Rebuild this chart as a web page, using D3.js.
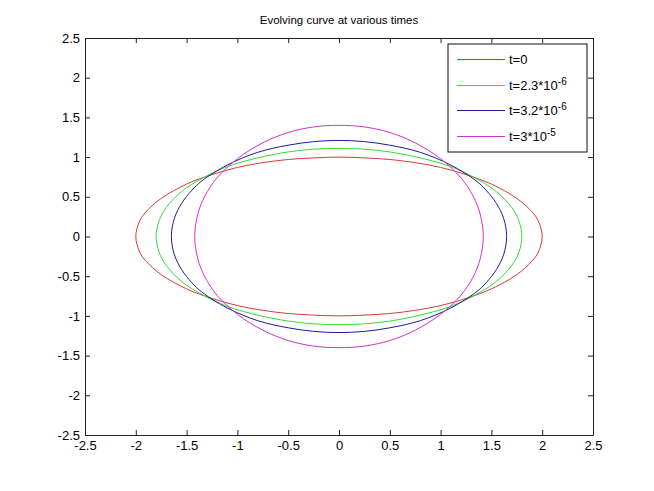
<!DOCTYPE html>
<html>
<head>
<meta charset="utf-8">
<script src="https://cdn.jsdelivr.net/npm/d3@7"></script>
<style>
  body { margin: 0; background: #fff; }
  svg { display: block; }
  text { font-family: "Liberation Sans", Arial, sans-serif; fill: #000; }
</style>
</head>
<body>
<svg id="chart" width="654" height="491"></svg>
<script>
// upper-left quarter of each curve (left tip -> top)
const curveT0 = [[-2.0, 0], [-1.96, 0.2], [-1.9, 0.31], [-1.75, 0.48], [-1.5, 0.66], [-1.25, 0.78],
  [-1.0, 0.87], [-0.75, 0.93], [-0.5, 0.97], [-0.25, 0.99], [0, 1.0]];
const curveT1 = [[-1.8, 0], [-1.77, 0.2], [-1.7, 0.365], [-1.55, 0.565], [-1.35, 0.73], [-1.1, 0.88],
  [-0.8, 0.99], [-0.5, 1.065], [-0.25, 1.10], [0, 1.11]];
const curveT2 = [[-1.65, 0], [-1.62, 0.23], [-1.55, 0.415], [-1.45, 0.58], [-1.35, 0.70], [-1.1, 0.90],
  [-0.8, 1.06], [-0.5, 1.15], [-0.25, 1.195], [0, 1.21]];
const curveT3 = [[-1.42, 0], [-1.39, 0.28], [-1.32, 0.51], [-1.2, 0.74], [-1.0, 0.98], [-0.75, 1.18],
  [-0.5, 1.31], [-0.25, 1.38], [0, 1.40]];

const seriesBase = ["t=0", "t=2.3*10", "t=3.2*10", "t=3*10"];
const seriesExp = ["", "-6", "-6", "-5"];
const seriesColors = ["#d83a3a", "#35d935", "#1c1c96", "#d42fd4"];
const xTicks = [-2.5, -2, -1.5, -1, -0.5, 0, 0.5, 1, 1.5, 2, 2.5];
const yTicks = [-2.5, -2, -1.5, -1, -0.5, 0, 0.5, 1, 1.5, 2, 2.5];
const titleText = "Evolving curve at various times";

const width = 654, height = 491;
const margin = {top: 38, right: 61, bottom: 56, left: 85};
const innerW = width - margin.left - margin.right;
const innerH = height - margin.top - margin.bottom;

const svg = d3.select("#chart");
const x = d3.scaleLinear().domain([-2.5, 2.5]).range([0, innerW]);
const y = d3.scaleLinear().domain([-2.5, 2.5]).range([innerH, 0]);

// mirror a quarter into a full closed shape
function fullCurve(q) {
  const top = q.concat(q.slice().reverse().slice(1).map(d => [-d[0], d[1]]));
  const bottom = top.slice().reverse().slice(1, -1).map(d => [d[0], -d[1]]);
  return top.concat(bottom);
}

const g = svg.append("g").attr("transform", "translate(" + margin.left + "," + margin.top + ")");

svg.append("text")
  .attr("x", margin.left + innerW / 2)
  .attr("y", 24)
  .attr("text-anchor", "middle")
  .style("font-size", "11.5px")
  .text(titleText);

const line = d3.line()
  .x(d => x(d[0]))
  .y(d => y(d[1]))
  .curve(d3.curveCatmullRomClosed);

const curves = [curveT0, curveT1, curveT2, curveT3].map((pts, i) => ({pts: pts, color: seriesColors[i]}));
g.selectAll("path.curve")
  .data(curves)
  .join("path")
  .attr("class", "curve")
  .attr("d", d => line(fullCurve(d.pts)))
  .attr("fill", "none")
  .attr("stroke", d => d.color)
  .attr("stroke-width", 1);

// axes, MATLAB style: ticks inside on all four sides
const tickLen = 5;
const fmt = d => String(d);
const axisBottom = g.append("g").attr("transform", "translate(0," + innerH + ")")
  .call(d3.axisBottom(x).tickValues(xTicks).tickSizeInner(-tickLen).tickSizeOuter(0).tickPadding(6)
    .tickFormat(fmt));
const axisLeft = g.append("g")
  .call(d3.axisLeft(y).tickValues(yTicks).tickSizeInner(-tickLen).tickSizeOuter(0).tickPadding(5)
    .tickFormat(fmt));
const axisTop = g.append("g")
  .call(d3.axisTop(x).tickValues(xTicks).tickSizeInner(-tickLen).tickSizeOuter(0).tickFormat(""));
const axisRight = g.append("g").attr("transform", "translate(" + innerW + ",0)")
  .call(d3.axisRight(y).tickValues(yTicks).tickSizeInner(-tickLen).tickSizeOuter(0).tickFormat(""));

[axisBottom, axisLeft, axisTop, axisRight].forEach(a => {
  a.select(".domain").attr("stroke", "#222");
  a.selectAll(".tick line").attr("stroke", "#222");
  a.selectAll("text").style("font-size", "13px").attr("fill", "#000");
});

// legend
const legendData = seriesBase.map((b, i) => ({base: b, exp: seriesExp[i], color: seriesColors[i]}));
const legend = g.append("g").attr("transform", "translate(" + (x(2.5) - 145) + "," + 6 + ")");
legend.append("rect")
  .attr("width", 139).attr("height", 108)
  .attr("fill", "#fff").attr("stroke", "#111").attr("stroke-width", 1);

const rows = legend.selectAll("g.row")
  .data(legendData)
  .join("g")
  .attr("class", "row")
  .attr("transform", (d, i) => "translate(0," + Math.round(15 + i * 25.5) + ")");

rows.append("line")
  .attr("x1", 9).attr("x2", 57)
  .attr("y1", 0.5).attr("y2", 0.5)
  .attr("stroke", d => d.color)
  .attr("stroke-width", 1.2);

const labels = rows.append("text")
  .attr("x", 61).attr("dy", "0.35em")
  .style("font-size", "13px");
labels.append("tspan").text(d => d.base);
labels.append("tspan")
  .attr("dy", "-0.45em")
  .style("font-size", "10px")
  .text(d => d.exp);
</script>
</body>
</html>
